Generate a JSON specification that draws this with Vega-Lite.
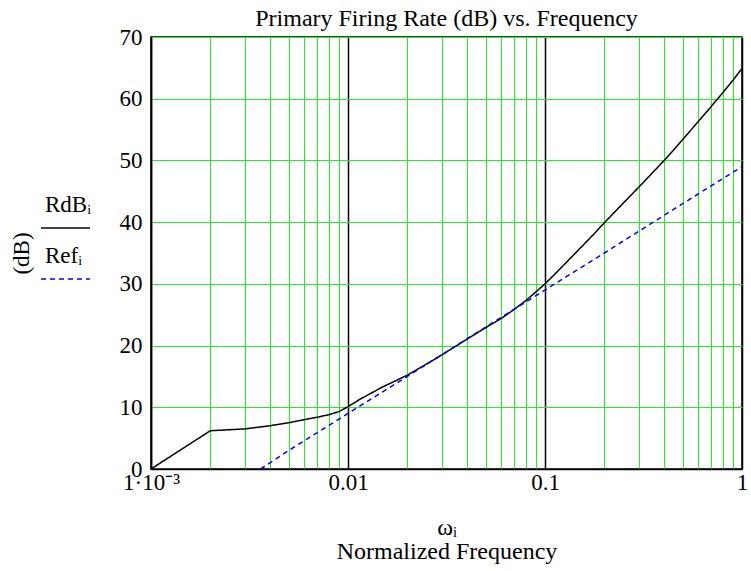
{
  "$schema": "https://vega.github.io/schema/vega-lite/v6.json",
  "width": 591,
  "height": 432,
  "autosize": {"type": "none"},
  "padding": {"left": 151, "top": 37, "right": 9, "bottom": 102},
  "background": "white",
  "config": {
    "font": "Liberation Serif",
    "view": {"stroke": "black", "strokeWidth": 1.5},
    "axis": {"labelFont": "Liberation Serif", "titleFont": "Liberation Serif", "labelColor": "black", "titleColor": "black", "titleFontWeight": "normal"}
  },
  "title": {"text": "Primary Firing Rate (dB) vs. Frequency", "font": "Liberation Serif", "fontSize": 24, "fontWeight": "normal", "color": "black", "frame": "group", "anchor": "middle", "baseline": "alphabetic", "offset": -24},
  "data": {"values": [
    {"w": 0.001, "v": 0, "s": "RdBᵢ"},
    {"w": 0.002, "v": 6.2, "s": "RdBᵢ"},
    {"w": 0.003, "v": 6.5, "s": "RdBᵢ"},
    {"w": 0.004, "v": 7.0, "s": "RdBᵢ"},
    {"w": 0.005, "v": 7.5, "s": "RdBᵢ"},
    {"w": 0.006, "v": 8.0, "s": "RdBᵢ"},
    {"w": 0.007, "v": 8.4, "s": "RdBᵢ"},
    {"w": 0.008, "v": 8.8, "s": "RdBᵢ"},
    {"w": 0.009, "v": 9.3, "s": "RdBᵢ"},
    {"w": 0.01, "v": 10.1, "s": "RdBᵢ"},
    {"w": 0.0115, "v": 11.3, "s": "RdBᵢ"},
    {"w": 0.015, "v": 13.3, "s": "RdBᵢ"},
    {"w": 0.02, "v": 15.2, "s": "RdBᵢ"},
    {"w": 0.025, "v": 17.0, "s": "RdBᵢ"},
    {"w": 0.03, "v": 18.5, "s": "RdBᵢ"},
    {"w": 0.04, "v": 21.0, "s": "RdBᵢ"},
    {"w": 0.05, "v": 22.9, "s": "RdBᵢ"},
    {"w": 0.06, "v": 24.4, "s": "RdBᵢ"},
    {"w": 0.07, "v": 25.9, "s": "RdBᵢ"},
    {"w": 0.08, "v": 27.3, "s": "RdBᵢ"},
    {"w": 0.09, "v": 28.7, "s": "RdBᵢ"},
    {"w": 0.1, "v": 30.0, "s": "RdBᵢ"},
    {"w": 0.11, "v": 31.3, "s": "RdBᵢ"},
    {"w": 0.125, "v": 33.1, "s": "RdBᵢ"},
    {"w": 0.15, "v": 35.7, "s": "RdBᵢ"},
    {"w": 0.175, "v": 37.9, "s": "RdBᵢ"},
    {"w": 0.2, "v": 39.9, "s": "RdBᵢ"},
    {"w": 0.25, "v": 43.1, "s": "RdBᵢ"},
    {"w": 0.3, "v": 45.7, "s": "RdBᵢ"},
    {"w": 0.35, "v": 47.95, "s": "RdBᵢ"},
    {"w": 0.4, "v": 49.9, "s": "RdBᵢ"},
    {"w": 0.45, "v": 51.7, "s": "RdBᵢ"},
    {"w": 0.5, "v": 53.4, "s": "RdBᵢ"},
    {"w": 0.6, "v": 56.3, "s": "RdBᵢ"},
    {"w": 0.7, "v": 58.8, "s": "RdBᵢ"},
    {"w": 0.8, "v": 61.0, "s": "RdBᵢ"},
    {"w": 0.9, "v": 63.0, "s": "RdBᵢ"},
    {"w": 1.0, "v": 64.9, "s": "RdBᵢ"},
    {"w": 0.0036, "v": 0, "s": "Refᵢ"},
    {"w": 0.005, "v": 3.0, "s": "Refᵢ"},
    {"w": 0.01, "v": 9.0, "s": "Refᵢ"},
    {"w": 0.02, "v": 15.0, "s": "Refᵢ"},
    {"w": 0.05, "v": 23.0, "s": "Refᵢ"},
    {"w": 0.1, "v": 29.0, "s": "Refᵢ"},
    {"w": 0.2, "v": 35.0, "s": "Refᵢ"},
    {"w": 0.5, "v": 43.0, "s": "Refᵢ"},
    {"w": 1.0, "v": 49.0, "s": "Refᵢ"}
  ]},
  "mark": {"type": "line", "strokeWidth": 1.5, "clip": true},
  "encoding": {
    "x": {
      "field": "w", "type": "quantitative",
      "scale": {"type": "log", "domain": [0.001, 1], "nice": false},
      "axis": {
        "values": [0.001, 0.002, 0.003, 0.004, 0.005, 0.006, 0.007, 0.008, 0.009, 0.01, 0.02, 0.03, 0.04, 0.05, 0.06, 0.07, 0.08, 0.09, 0.1, 0.2, 0.3, 0.4, 0.5, 0.6, 0.7, 0.8, 0.9, 1],
        "labelExpr": "abs(log(datum.value)/LN10 + 3) < 1e-6 ? '1·10⁻³' : (abs(log(datum.value)/LN10 + 2) < 1e-6 ? '0.01' : (abs(log(datum.value)/LN10 + 1) < 1e-6 ? '0.1' : (abs(log(datum.value)/LN10) < 1e-6 ? '1' : '')))",
        "labelOverlap": false,
        "labelBound": false,
        "labelFlush": false,
        "labelFontSize": 23,
        "labelPadding": 2,
        "ticks": false,
        "domain": true,
        "domainColor": "black",
        "domainWidth": 1.5,
        "grid": true,
        "gridColor": {"condition": {"test": "abs(log(datum.value)/LN10 - round(log(datum.value)/LN10)) < 1e-6", "value": "black"}, "value": "#22ee22"},
        "gridWidth": {"condition": {"test": "abs(log(datum.value)/LN10 - round(log(datum.value)/LN10)) < 1e-6", "value": 1.5}, "value": 1},
        "gridOpacity": 1,
        "title": ["ωᵢ", "Normalized Frequency"],
        "titleFontSize": 24,
        "titleLineHeight": 24,
        "titlePadding": 21
      }
    },
    "y": {
      "field": "v", "type": "quantitative",
      "scale": {"domain": [0, 70], "nice": false},
      "axis": {
        "values": [0, 10, 20, 30, 40, 50, 60, 70],
        "labelFontSize": 23,
        "labelPadding": 9,
        "ticks": false,
        "domainColor": "black",
        "domainWidth": 1.5,
        "grid": true,
        "gridColor": "#22ee22",
        "gridOpacity": 1,
        "gridWidth": 1,
        "title": "(dB)",
        "titleFontSize": 23,
        "titleX": -130,
        "titleY": 216,
        "titleAngle": -90,
        "titleAlign": "center",
        "titleBaseline": "middle"
      }
    },
    "color": {
      "field": "s", "type": "nominal",
      "scale": {"domain": ["RdBᵢ", "Refᵢ"], "range": ["black", "blue"]},
      "legend": {
        "orient": "none", "legendX": -110, "legendY": 158, "title": null,
        "symbolType": "stroke", "symbolSize": 2400, "symbolStrokeWidth": 1.5,
        "labelFont": "Liberation Serif", "labelFontSize": 23, "labelColor": "black",
        "rowPadding": 14,
        "encode": {
          "labels": {"update": {"x": {"value": 4}, "y": {"value": 10}, "baseline": {"value": "middle"}}},
          "symbols": {"update": {"x": {"value": 24.5}, "y": {"value": 33}}}
        }
      }
    },
    "strokeDash": {
      "field": "s", "type": "nominal",
      "scale": {"domain": ["RdBᵢ", "Refᵢ"], "range": [[1, 0], [5, 4]]},
      "legend": {
        "orient": "none", "legendX": -110, "legendY": 158, "title": null,
        "symbolType": "stroke", "symbolSize": 2400, "symbolStrokeWidth": 1.5,
        "labelFont": "Liberation Serif", "labelFontSize": 23, "labelColor": "black",
        "rowPadding": 14,
        "encode": {
          "labels": {"update": {"x": {"value": 4}, "y": {"value": 10}, "baseline": {"value": "middle"}}},
          "symbols": {"update": {"x": {"value": 24.5}, "y": {"value": 33}}}
        }
      }
    }
  }
}
